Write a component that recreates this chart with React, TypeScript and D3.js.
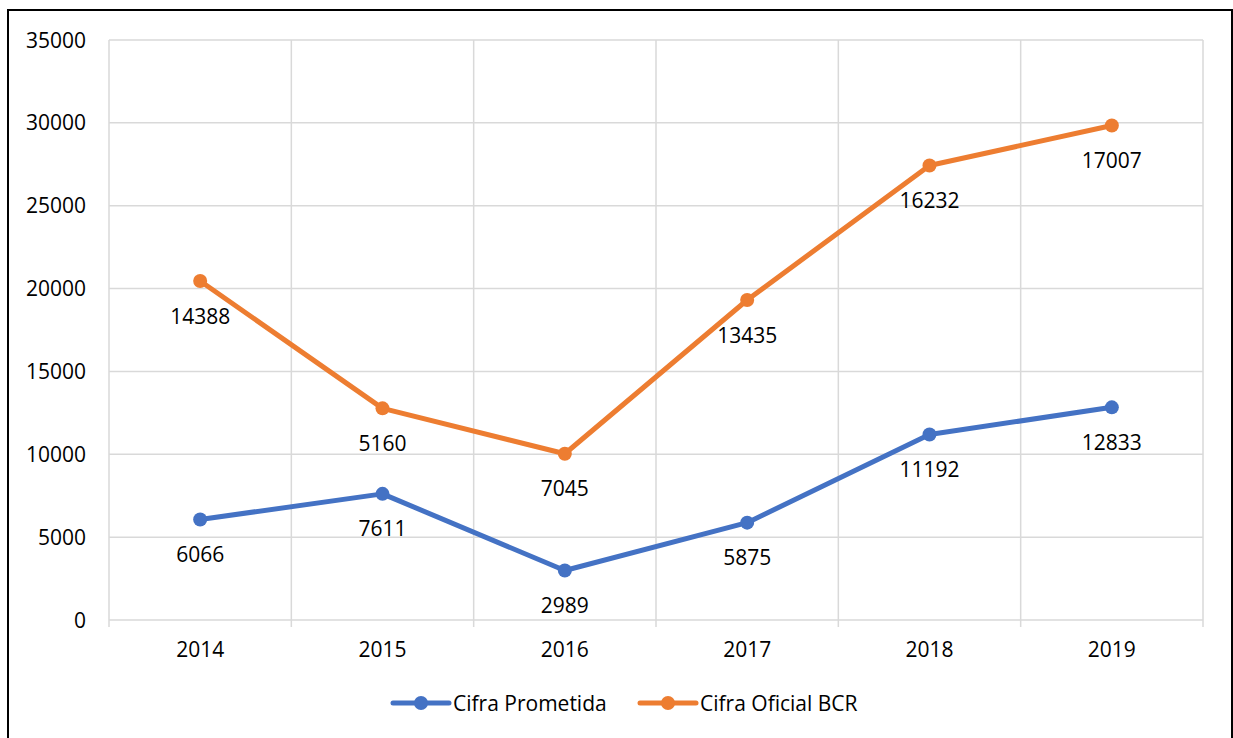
import { FC } from 'react';
import * as d3 from 'd3';

const years = ['2014', '2015', '2016', '2017', '2018', '2019'];
const prometida = [6066, 7611, 2989, 5875, 11192, 12833];
const oficialBCR = [14388, 5160, 7045, 13435, 16232, 17007];
const yTicks = [0, 5000, 10000, 15000, 20000, 25000, 30000, 35000];

const W = 1233;
const H = 738;
const PLOT = { left: 109, right: 1203, top: 40, bottom: 620 };
const FONT = "'Open Sans', 'Noto Sans', sans-serif";
const FS = 21;
const BLUE = '#4472C4';
const ORANGE = '#ED7D31';

// stacked line chart: the second series sits on top of the first
const stacked = oficialBCR.map((v, i) => v + prometida[i]);

const App: FC = () => {
  const x = d3.scaleBand<string>().domain(years).range([PLOT.left, PLOT.right]);
  const y = d3.scaleLinear().domain([0, 35000]).range([PLOT.bottom, PLOT.top]);
  const cx = (yr: string) => (x(yr) ?? 0) + x.bandwidth() / 2;

  const line = d3
    .line<number>()
    .x((_, i) => cx(years[i]))
    .y((d) => y(d));

  const series = [
    { name: 'Cifra Prometida', color: BLUE, plotted: prometida, labels: prometida },
    { name: 'Cifra Oficial BCR', color: ORANGE, plotted: stacked, labels: oficialBCR },
  ];

  const bounds = [...years.map((yr) => x(yr) ?? 0), PLOT.right];

  return (
    <svg
      width={W}
      height={H}
      style={{ position: 'absolute', left: 0, top: 0, background: '#fff' }}
      fontFamily={FONT}
    >
      <rect x={8} y={10} width={1224} height={740} fill="#fff" stroke="#000" strokeWidth={2} />

      {/* grid */}
      {yTicks.map((t) => (
        <line key={t} x1={PLOT.left} x2={PLOT.right} y1={y(t)} y2={y(t)} stroke="#d9d9d9" strokeWidth={1.5} />
      ))}
      {bounds.map((b, i) => (
        <line key={i} x1={b} x2={b} y1={PLOT.top} y2={PLOT.bottom + 7} stroke="#d9d9d9" strokeWidth={1.5} />
      ))}

      {/* y axis labels */}
      {yTicks.map((t) => (
        <text key={t} x={86} y={y(t)} dy="0.36em" textAnchor="end" fontSize={FS} fill="#000">
          {t}
        </text>
      ))}

      {/* x axis labels */}
      {years.map((yr) => (
        <text key={yr} x={cx(yr)} y={649} dy="0.36em" textAnchor="middle" fontSize={FS} fill="#000">
          {yr}
        </text>
      ))}

      {/* lines, markers, labels */}
      {series.map((s) => (
        <g key={s.name}>
          <path d={line(s.plotted) ?? ''} fill="none" stroke={s.color} strokeWidth={5} strokeLinejoin="round" />
          {s.plotted.map((v, i) => (
            <circle key={i} cx={cx(years[i])} cy={y(v)} r={7} fill={s.color} />
          ))}
          {s.plotted.map((v, i) => (
            <text
              key={`l${i}`}
              x={cx(years[i])}
              y={y(v) + 35}
              dy="0.36em"
              textAnchor="middle"
              fontSize={FS}
              fill="#000"
            >
              {s.labels[i]}
            </text>
          ))}
        </g>
      ))}

      {/* legend */}
      {series.map((s, i) => {
        const lx = i === 0 ? 393 : 640;
        return (
          <g key={s.name} transform={`translate(${lx},703)`}>
            <line x1={0} x2={56} y1={0} y2={0} stroke={s.color} strokeWidth={5} strokeLinecap="round" />
            <circle cx={28} cy={0} r={7} fill={s.color} />
            <text x={60} y={0} dy="0.36em" fontSize={FS} fill="#000">
              {s.name}
            </text>
          </g>
        );
      })}
    </svg>
  );
};

export default App;
